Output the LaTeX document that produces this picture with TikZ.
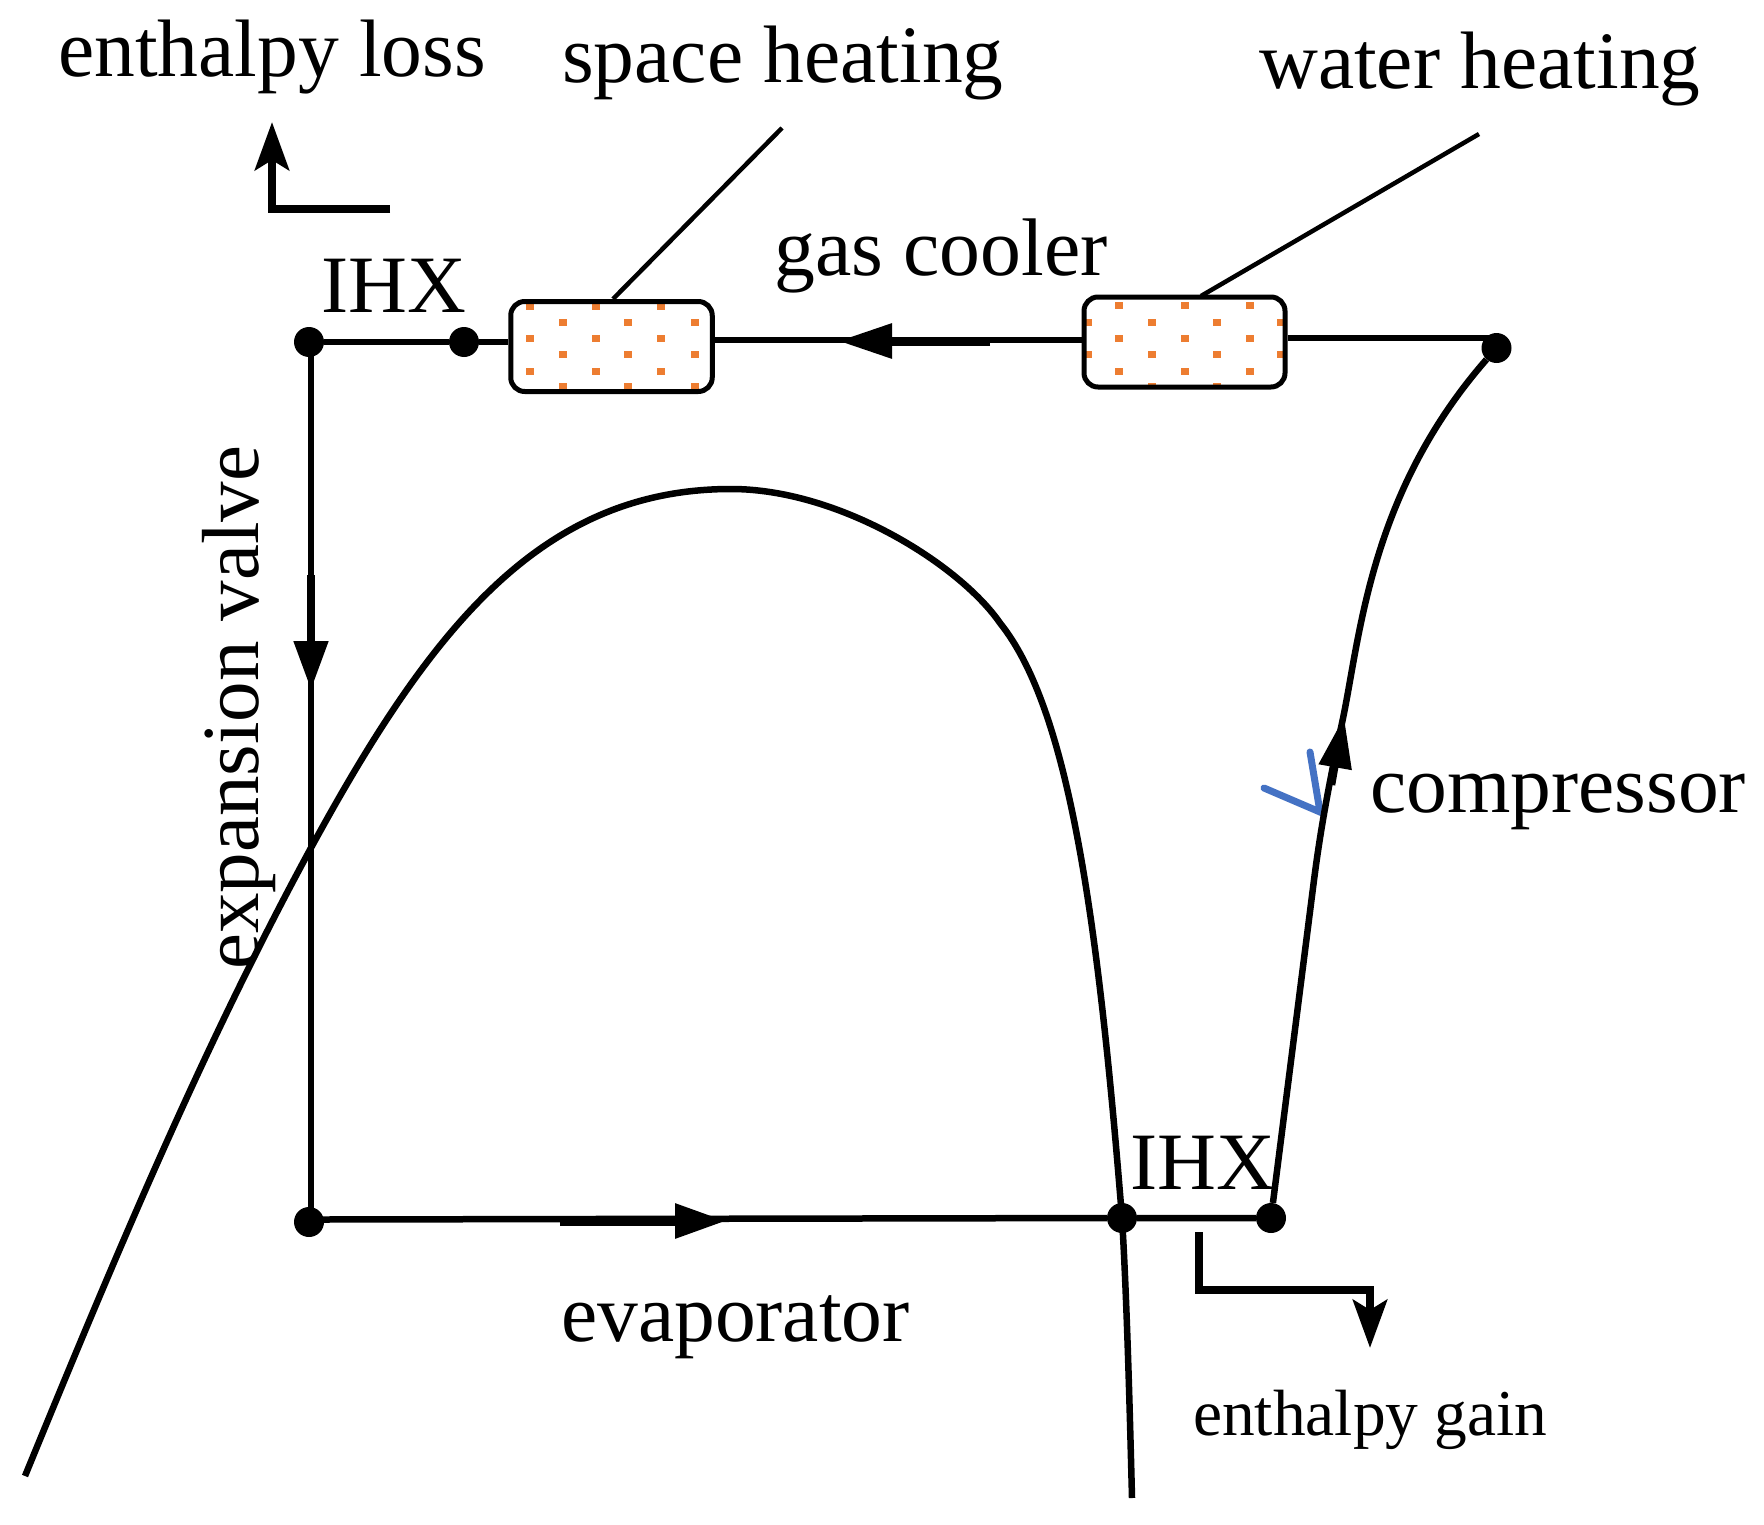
\documentclass[tikz,border=0pt]{standalone}
\usepackage{fontspec}
\setmainfont{Liberation Serif}
\usetikzlibrary{arrows.meta}
\definecolor{dotorange}{HTML}{ED7D31}
\definecolor{tickblue}{HTML}{4472C4}
\tikzset{
  lbl/.style={inner sep=0pt,anchor=base west,font=\fontsize{81.5}{90}\selectfont},
  lblsmall/.style={inner sep=0pt,anchor=base west,font=\fontsize{65.4}{72}\selectfont},
  junction/.style={circle,fill=black,inner sep=0pt,minimum size=30pt},
  hxbox/.style={draw=black,line width=5pt,rounded corners=14pt,inner sep=0pt,minimum width=201.5pt,minimum height=90pt},
  pipe/.style={draw=black,line width=6.5pt},
  leader/.style={draw=black,line width=4.5pt},
  flow/.style={draw=black,line width=9pt,-{Triangle[length=54pt,width=33pt]}},
  elbow/.style={draw=black,line width=8.5pt,miter limit=10,-{Stealth[length=48pt,width=34pt,inset=10pt]}},
  fleck/.style={fill=dotorange}
}
\begin{document}
\begin{tikzpicture}[x=1pt,y=-1pt]
\useasboundingbox (0,0) rectangle (1764,1525);
% stippling of the two heat exchangers
\begin{scope}
\clip[rounded corners=14pt] (511,300) rectangle (713,393);
\foreach \yy in {306,338,371} \foreach \xx in {530,596,661}
  \fill[fleck] (\xx-4,\yy-3.5) rectangle (\xx+4,\yy+3.5);
\foreach \yy in {322,354,386} \foreach \xx in {563,628,695}
  \fill[fleck] (\xx-4,\yy-3.5) rectangle (\xx+4,\yy+3.5);
\end{scope}
\begin{scope}
\clip[rounded corners=14pt] (1083,296) rectangle (1286,388);
\foreach \yy in {305,338,371} \foreach \xx in {1119,1185,1250}
  \fill[fleck] (\xx-4,\yy-3.5) rectangle (\xx+4,\yy+3.5);
\foreach \yy in {322,354,386} \foreach \xx in {1088,1152,1217,1281}
  \fill[fleck] (\xx-4,\yy-3.5) rectangle (\xx+4,\yy+3.5);
\end{scope}
% nodes
\node[hxbox] (spacebox) at (611.5,346.5) {};
\node[hxbox,minimum width=201pt] (waterbox) at (1184.5,342) {};
\node[junction] (ihxa) at (309,342) {};
\node[junction] (ihxb) at (464,342) {};
\node[junction] (hot) at (1496.5,348) {};
\node[junction] (low) at (309,1222) {};
\node[junction] (sat) at (1122,1218) {};
\node[junction] (suct) at (1271,1218) {};
% saturation dome
\draw[pipe] (25,1476) .. controls (112,1264) and (202,1048) .. (312,846)
  .. controls (430,630) and (540,489) .. (731,489)
  .. controls (840,489) and (960,565) .. (1000,623)
  .. controls (1069,709) and (1098,918) .. (1122,1218)
  .. controls (1127,1300) and (1130,1420) .. (1132,1498);
% blue tick
\coordinate (ticka) at (1264,788);
\coordinate (tickb) at (1320,812);
\coordinate (tickc) at (1310,752);
\draw[tickblue,line width=7pt,line cap=round,line join=miter] (ticka) -- (tickb) -- (tickc);
% cycle
\coordinate (ya) at (0,340);
\coordinate (yb) at (0,338);
\coordinate (hotup) at (1496,338);
\coordinate (ihxv) at (311,342);
\coordinate (lowv) at (311,1222);
\coordinate (lowr) at (323,1219.5);
\draw[pipe] (ihxa) -- (ihxb);
\draw[pipe] (ihxb) -- (spacebox.west |- ihxb);
\draw[pipe] (spacebox.east |- ya) -- (waterbox.west |- ya);
\draw[pipe] (waterbox.east |- yb) -- (hotup);
\draw[pipe] (ihxv) -- (lowv);
\draw[pipe] (lowr) -- (sat) -- (suct);
\coordinate (knee) at (1314,880);
\coordinate (kneeb) at (1342,723);
\draw[pipe,line join=round] (suct) -- (knee)
  .. controls (1322,818) and (1332,770) .. (kneeb)
  .. controls (1360,640) and (1368,495) .. (hot);
% flow arrows
\coordinate (gca) at (990,341);
\coordinate (gcb) at (838,341);
\draw[flow] (gca) -- (gcb);
\coordinate (eva) at (311,575);
\coordinate (evb) at (311,690);
\draw[flow,line width=8pt,-{Triangle[length=49pt,width=33pt]}] (eva) -- (evb);
\coordinate (boa) at (560,1221);
\coordinate (bob) at (726,1221);
\draw[flow,-{Triangle[length=51pt,width=33pt]}] (boa) -- (bob);
\coordinate (coa) at (1332,785);
\coordinate (cob) at (1344,717);
\draw[flow,line width=6.5pt,-{Triangle[length=51pt,width=32pt]}] (coa) -- (cob);
% leaders
\coordinate (spaceend) at (782,128);
\coordinate (waterend) at (1479,134);
\coordinate (spacefoot) at (613,299);
\coordinate (waterfoot) at (1201,296);
\draw[leader] (spacefoot) -- (spaceend);
\draw[leader] (waterfoot) -- (waterend);
% enthalpy arrows
\coordinate (lossa) at (390,209);
\coordinate (lossb) at (272,209);
\coordinate (lossc) at (272,122);
\draw[elbow] (lossa) -- (lossb) -- (lossc);
\coordinate (gaina) at (1199,1232);
\coordinate (gainb) at (1199,1290);
\coordinate (gainc) at (1370,1290);
\coordinate (gaind) at (1370,1348);
\draw[elbow] (gaina) -- (gainb) -- (gainc) -- (gaind);
% labels
\node[lbl] (tloss) at (58,77) {enthalpy loss};
\node[lbl] (tspace) at (562,83) {space heating};
\node[lbl] (twater) at (1259,89) {water heating};
\node[lbl,font=\fontsize{81.7}{90}\selectfont] (tgas) at (774,275) {gas cooler};
\node[lbl] (tihxa) at (321,312) {IHX};
\node[lbl] (tihxb) at (1130,1189) {IHX};
\node[lbl] (tcomp) at (1370,812) {compressor};
\node[lbl] (tevap) at (561,1341) {evaporator};
\node[lblsmall] (tgain) at (1193,1435) {enthalpy gain};
\node[lbl,rotate=90,font=\fontsize{81}{90}\selectfont] (tvalve) at (258,970) {expansion valve};
\end{tikzpicture}
\end{document}
